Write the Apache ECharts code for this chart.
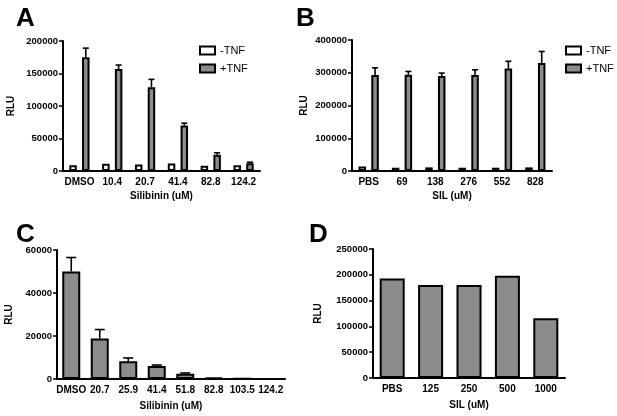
<!DOCTYPE html>
<html>
<head>
<meta charset="utf-8">
<script src="https://cdn.jsdelivr.net/npm/echarts@6/dist/echarts.min.js"></script>
<style>
html,body{margin:0;padding:0;background:#fff;}
#main{width:617px;height:416px;}
</style>
</head>
<body>
<div id="main"></div>
<script>
// ---- Data ----
var catsA = ['DMSO', '10.4', '20.7', '41.4', '82.8', '124.2'];
var aMinus = [9000, 11000, 10000, 11500, 8000, 9000];
var aPlus = [175000, 157000, 129000, 70000, 25000, 12000];
var aPlusErr = [14000, 6000, 12000, 3500, 3000, 1500];

var catsB = ['PBS', '69', '138', '276', '552', '828'];
var bMinus = [14000, 10000, 11000, 10000, 10000, 11000];
var bPlus = [293000, 294000, 290000, 293000, 313000, 330000];
var bPlusErr = [22000, 10000, 9000, 16000, 22000, 35000];

var catsC = ['DMSO', '20.7', '25.9', '41.4', '51.8', '82.8', '103.5', '124.2'];
var cVals = [50000, 18800, 8300, 6000, 2500, 600, 150, 100];
var cErr = [6500, 4200, 1500, 500, 300, 0, 0, 0];

var catsD = ['PBS', '125', '250', '500', '1000'];
var dVals = [193000, 180000, 180000, 198000, 116000];

var axisNames = { A: 'Silibinin (uM)', B: 'SIL (uM)', C: 'Silibinin (uM)', D: 'SIL (uM)' };
var yName = 'RLU';
var seriesNames = ['-TNF', '+TNF'];

// ---- Styles ----
var FONT = 'Liberation Sans, Arial, Helvetica, sans-serif';
var GRAY = '#8c8c8c';

function errTriples(vals, errs) {
  return vals.map(function (v, i) { return [i, v, errs[i]]; });
}
function errRender(offset, cap) {
  return function (params, api) {
    var i = api.value(0), v = api.value(1), e = api.value(2);
    if (!e) return null;
    var p0 = api.coord([i, v]);
    var p1 = api.coord([i, v + e]);
    var x = p0[0] + offset;
    return {
      type: 'group',
      children: [
        { type: 'line', shape: { x1: x, y1: p0[1], x2: x, y2: p1[1] }, style: { stroke: '#000', lineWidth: 1.6 } },
        { type: 'line', shape: { x1: x - cap / 2, y1: p1[1], x2: x + cap / 2, y2: p1[1] }, style: { stroke: '#000', lineWidth: 1.6 } }
      ]
    };
  };
}

function xAxisCfg(gi, cats, name, gap) {
  return {
    type: 'category', gridIndex: gi, data: cats,
    name: name, nameLocation: 'middle', nameGap: gap,
    nameTextStyle: { fontFamily: FONT, fontWeight: 'bold', fontSize: 10, color: '#000' },
    axisLine: { lineStyle: { color: '#000', width: 2 } },
    axisTick: { alignWithLabel: true, length: 4, lineStyle: { color: '#000', width: 1.5 } },
    axisLabel: { fontFamily: FONT, fontWeight: 'bold', fontSize: 10, color: '#000', margin: 6, interval: 0 },
    splitLine: { show: false }
  };
}
function yAxisCfg(gi, max, interval, gap) {
  return {
    type: 'value', gridIndex: gi, min: 0, max: max, interval: interval,
    name: yName, nameLocation: 'middle', nameGap: gap, nameRotate: 90,
    nameTextStyle: { fontFamily: FONT, fontWeight: 'bold', fontSize: 10, color: '#000' },
    axisLine: { show: true, lineStyle: { color: '#000', width: 2 } },
    axisTick: { show: true, length: 4, lineStyle: { color: '#000', width: 1.5 } },
    axisLabel: { fontFamily: FONT, fontWeight: 'bold', fontSize: 9.5, color: '#000', margin: 5,
      formatter: function (v) { return String(v); } },
    splitLine: { show: false }
  };
}

var BW2 = 7.5, GAP2 = 5.25;
var off2 = (BW2 + GAP2) / 2;

var option = {
  animation: false,
  backgroundColor: '#fff',
  grid: [
    { left: 63, top: 41, width: 197, height: 130 },
    { left: 352, top: 40, width: 200, height: 131 },
    { left: 57, top: 250, width: 228, height: 129 },
    { left: 373, top: 249, width: 192, height: 129 }
  ],
  xAxis: [
    xAxisCfg(0, catsA, axisNames.A, 20),
    xAxisCfg(1, catsB, axisNames.B, 20),
    xAxisCfg(2, catsC, axisNames.C, 22),
    xAxisCfg(3, catsD, axisNames.D, 22)
  ],
  yAxis: [
    yAxisCfg(0, 200000, 50000, 47),
    yAxisCfg(1, 400000, 100000, 43),
    yAxisCfg(2, 60000, 20000, 43),
    yAxisCfg(3, 250000, 50000, 50)
  ],
  legend: [
    { orient: 'vertical', left: 194, top: 40, itemWidth: 15, itemHeight: 8, itemGap: 7,
      icon: 'rect', data: seriesNames,
      textStyle: { fontFamily: FONT, fontSize: 11, color: '#000' } },
    { orient: 'vertical', left: 560, top: 40, itemWidth: 15, itemHeight: 8, itemGap: 7,
      icon: 'rect', data: seriesNames,
      textStyle: { fontFamily: FONT, fontSize: 11, color: '#000' } }
  ],
  graphic: [
    { type: 'text', left: 16, top: 6, style: { text: 'A', font: 'bold 26px ' + FONT, fill: '#000' } },
    { type: 'text', left: 296, top: 6, style: { text: 'B', font: 'bold 26px ' + FONT, fill: '#000' } },
    { type: 'text', left: 16, top: 222, style: { text: 'C', font: 'bold 26px ' + FONT, fill: '#000' } },
    { type: 'text', left: 309, top: 222, style: { text: 'D', font: 'bold 26px ' + FONT, fill: '#000' } }
  ],
  series: [
    { name: '-TNF', type: 'bar', xAxisIndex: 0, yAxisIndex: 0, data: aMinus, barWidth: BW2, barGap: '70%',
      itemStyle: { color: '#fff', borderColor: '#000', borderWidth: 2 } },
    { name: '+TNF', type: 'bar', xAxisIndex: 0, yAxisIndex: 0, data: aPlus, barWidth: BW2, barGap: '70%',
      itemStyle: { color: GRAY, borderColor: '#000', borderWidth: 2 } },
    { type: 'custom', xAxisIndex: 0, yAxisIndex: 0, data: errTriples(aPlus, aPlusErr),
      encode: { x: 0, y: 1 }, renderItem: errRender(off2, 6), z: 5 },

    { name: '-TNF', type: 'bar', xAxisIndex: 1, yAxisIndex: 1, data: bMinus, barWidth: BW2, barGap: '70%',
      itemStyle: { color: '#fff', borderColor: '#000', borderWidth: 2 } },
    { name: '+TNF', type: 'bar', xAxisIndex: 1, yAxisIndex: 1, data: bPlus, barWidth: BW2, barGap: '70%',
      itemStyle: { color: GRAY, borderColor: '#000', borderWidth: 2 } },
    { type: 'custom', xAxisIndex: 1, yAxisIndex: 1, data: errTriples(bPlus, bPlusErr),
      encode: { x: 0, y: 1 }, renderItem: errRender(off2, 6), z: 5 },

    { type: 'bar', xAxisIndex: 2, yAxisIndex: 2, data: cVals, barWidth: 18,
      itemStyle: { color: GRAY, borderColor: '#000', borderWidth: 2 } },
    { type: 'custom', xAxisIndex: 2, yAxisIndex: 2, data: errTriples(cVals, cErr),
      encode: { x: 0, y: 1 }, renderItem: errRender(0, 10), z: 5 },

    { type: 'bar', xAxisIndex: 3, yAxisIndex: 3, data: dVals, barWidth: 25,
      itemStyle: { color: GRAY, borderColor: '#000', borderWidth: 2 } }
  ]
};

var chart = echarts.init(document.getElementById('main'), null, { renderer: 'canvas' });
chart.setOption(option);
</script>
</body>
</html>
